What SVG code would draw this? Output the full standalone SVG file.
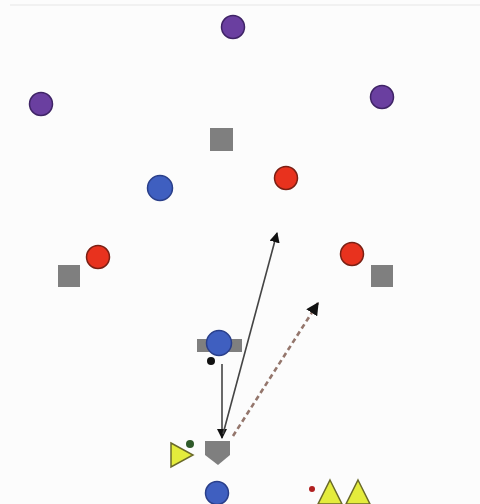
<svg xmlns="http://www.w3.org/2000/svg" width="480" height="504" viewBox="0 0 480 504">
<style>
.purple{fill:#6a3fa0;stroke:#3f2466;stroke-width:1.5}
.blue{fill:#3f5fc0;stroke:#2a3f8a;stroke-width:1.5}
.red{fill:#e8321e;stroke:#7a2014;stroke-width:1.5}
.grey{fill:#7f7f7f}
.yellow{fill:#e4ec3c;stroke:#6a6a2a;stroke-width:1.5}
.solid{stroke:#444;stroke-width:1.6;fill:none}
.dash{stroke:#94766c;stroke-width:2.6;stroke-dasharray:5,3.5;fill:none}
</style>
<defs>
<marker id="ah" viewBox="0 0 10 10" refX="9" refY="5" markerWidth="6.5" markerHeight="6.5" orient="auto" markerUnits="strokeWidth">
<path d="M0,0 L10,5 L0,10 z" fill="#111"/>
</marker>
<marker id="ahd" viewBox="0 0 10 10" refX="9" refY="5" markerWidth="5" markerHeight="5" orient="auto" markerUnits="strokeWidth">
<path d="M0,0 L10,5 L0,10 z" fill="#111"/>
</marker>
</defs>
<rect width="480" height="504" fill="#fcfcfc"/>
<line x1="10" y1="5" x2="480" y2="5" stroke="#e6e6e6" stroke-width="1"/>

<g id="purple-top"><circle class="purple" cx="233" cy="27" r="11.5"/></g>
<g id="purple-left"><circle class="purple" cx="41" cy="104" r="11.5"/></g>
<g id="purple-right"><circle class="purple" cx="382" cy="97" r="11.5"/></g>

<g id="cone-top"><rect class="grey" x="210" y="128" width="23" height="23"/></g>
<g id="blue-left"><circle class="blue" cx="160" cy="188" r="12.5"/></g>
<g id="red-top"><circle class="red" cx="286" cy="178" r="11.5"/></g>
<g id="red-left"><circle class="red" cx="98" cy="257" r="11.5"/></g>
<g id="cone-left"><rect class="grey" x="58" y="265" width="22" height="22"/></g>
<g id="red-right"><circle class="red" cx="352" cy="254" r="11.5"/></g>
<g id="cone-right"><rect class="grey" x="371" y="265" width="22" height="22"/></g>

<g id="blue-center">
<rect class="grey" x="197" y="339" width="45" height="13"/>
<circle class="blue" cx="219" cy="343" r="12.5"/>
<circle cx="211" cy="361" r="4" fill="#111"/>
</g>

<g id="connectors">
<line class="solid" x1="222" y1="364" x2="222" y2="438" marker-end="url(#ah)"/>
<line class="solid" x1="223" y1="434" x2="277" y2="233" marker-end="url(#ah)"/>
<line class="dash" x1="233" y1="436" x2="318" y2="303" marker-end="url(#ahd)"/>
</g>

<g id="shield"><path class="grey" d="M205,441 L230,441 L230,455 L218,465 L205,455 Z"/></g>
<g id="yellow-left">
<path class="yellow" d="M171,443 L193,455 L171,467 Z"/>
<circle cx="190" cy="444" r="4" fill="#2f5a2a"/>
</g>
<g id="blue-bottom"><circle class="blue" cx="217" cy="493" r="11.5"/></g>
<g id="yellow-right">
<circle cx="312" cy="489" r="3" fill="#b02020"/>
<path class="yellow" d="M330,480 L342,504 L318,504 Z"/>
<path class="yellow" d="M358,480 L370,504 L346,504 Z"/>
</g>
</svg>
